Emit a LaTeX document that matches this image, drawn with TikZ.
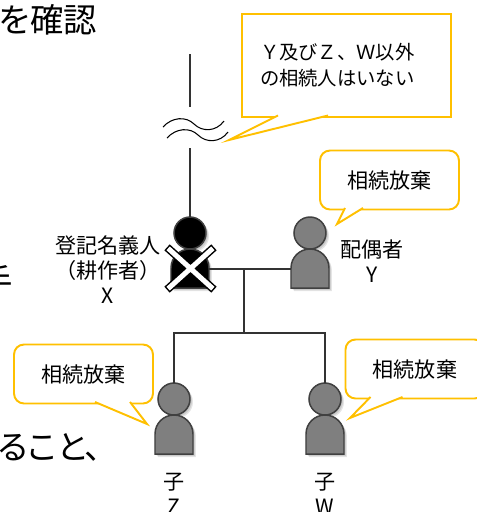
\documentclass[tikz,border=0pt]{standalone}
\usepackage{fontspec}
\newfontfamily\jp{Noto Sans CJK JP}
\newfontfamily\jpp[RawFeature=+palt]{Noto Sans CJK JP}
\usetikzlibrary{calc}
\definecolor{callyellow}{HTML}{FFC000}
\definecolor{persongray}{HTML}{7F7F7F}
\definecolor{personline}{HTML}{404040}

\begin{document}
\begin{tikzpicture}[x=0.02cm,y=-0.02cm,
  tree/.style={draw=black!80, line width=0.6pt},
  who/.style={align=center, inner sep=0pt, font=\jp\fontsize{12}{14.2}\selectfont},
  frag/.style={inner sep=0pt, font=\jpp\fontsize{19}{22}\selectfont},
  callbox/.style={draw=callyellow, line width=1.1pt, fill=white, outer sep=0pt, inner sep=0pt, font=\jp\fontsize{12}{14}\selectfont},
  bubble/.style={callbox, rounded corners=0.2cm, minimum width=2.78cm, minimum height=1.18cm},
  tail/.style={draw=callyellow, line width=1.1pt, fill=white, line join=miter},
  crossline/.style={line cap=rect, line width=#1},
  person/.pic={
    \foreach \s in {1,2,3}
      \fill[black, opacity=.1, shift={(\s,\s)}] (-19,55) -- (-19,35) .. controls (-19,24.5) and (-10.5,16) .. (0,16)
        .. controls (10.5,16) and (19,24.5) .. (19,35) -- (19,55) -- cycle (0,0) circle (16);
    \draw[personline, line width=0.85pt, fill=#1] (-19,55) -- (-19,35) .. controls (-19,24.5) and (-10.5,16) .. (0,16)
        .. controls (10.5,16) and (19,24.5) .. (19,35) -- (19,55) -- cycle;
    \draw[personline, line width=0.85pt, fill=#1] (0,0) circle (16);
    \coordinate (-top) at (0,-16);
    \coordinate (-left) at (-19,36);
    \coordinate (-right) at (19,36);
  }]
\useasboundingbox (0,0) rectangle (477,512);
\clip (0,0) rectangle (477,512);

\node[frag, anchor=west] (kakunin) at (-1,20) {を確認};
\node[frag, anchor=east] (te) at (13,281) {手};
\node[frag, anchor=west] (koto) at (-2,447) {ること、};

\pic (X) at (190,233) {person=black};
\pic (Y) at (310,233) {person=persongray};
\pic (Z) at (174,399) {person=persongray};
\pic (W) at (325,399) {person=persongray};
\draw[crossline=0.16cm, black] (170,250) -- (211,287) (170,287) -- (211,250);
\draw[crossline=0.1cm, white] (170,250) -- (211,287) (170,287) -- (211,250);

\coordinate (anc) at (190,54);
\coordinate (cutT) at (190,107);
\coordinate (cutB) at (190,148);
\coordinate (couple) at (244,269);
\coordinate (kids) at (244,333);
\draw[tree] (anc) -- (cutT);
\draw[tree] (cutB) -- (X-top);
\foreach \dx/\dy in {0/0,4/11}
  \draw[line width=0.6pt, shift={(\dx,\dy)}] (163,127) .. controls (172,117) and (186,116) .. (194,124)
    .. controls (202,132) and (216,132) .. (224,121);
\draw[tree] (X-right) -- (Y-left);
\draw[tree] (couple) -- (kids);
\draw[tree] (Z-top) |- (kids) -| (W-top);

\node[who] (xname) at (108,270) {登記名義人\\（耕作者）\\X};
\node[who] (yname) at (372,261) {配偶者\\Y};
\node[who] (zname) at (174,494) {子\\Z};
\node[who] (wname) at (325,494) {子\\W};

\node[callbox, text width=3.46cm, inner xsep=0.36cm, minimum height=2.06cm, align=left,
  font=\jp\fontsize{11}{14.7}\selectfont] (allbox) at (346.5,65.5) {Ｙ及びＺ、Ｗ以外\\の相続人はいない};
\coordinate (alltip) at (229,140);
\draw[tail] ($(allbox.south west)+(36,-1.5)$) -- (alltip) -- ($(allbox.south west)+(86,-1.5)$);

\node[bubble] (ybox) at (389.5,180) {相続放棄};
\coordinate (ytip) at (337,224);
\draw[tail] ($(ybox.south west)+(25,-1.5)$) -- (ytip) -- ($(ybox.south west)+(43,-1.5)$);

\node[bubble] (zbox) at (83.5,374) {相続放棄};
\coordinate (ztip) at (147,424);
\draw[tail] ($(zbox.south west)+(81,-1.5)$) -- (ztip) -- ($(zbox.south west)+(116,-1.5)$);

\node[bubble] (wbox) at (415,369) {相続放棄};
\coordinate (wtip) at (350,418);
\draw[tail] ($(wbox.south west)+(25,-1.5)$) -- (wtip) -- ($(wbox.south west)+(57,-1.5)$);

\end{tikzpicture}
\end{document}
